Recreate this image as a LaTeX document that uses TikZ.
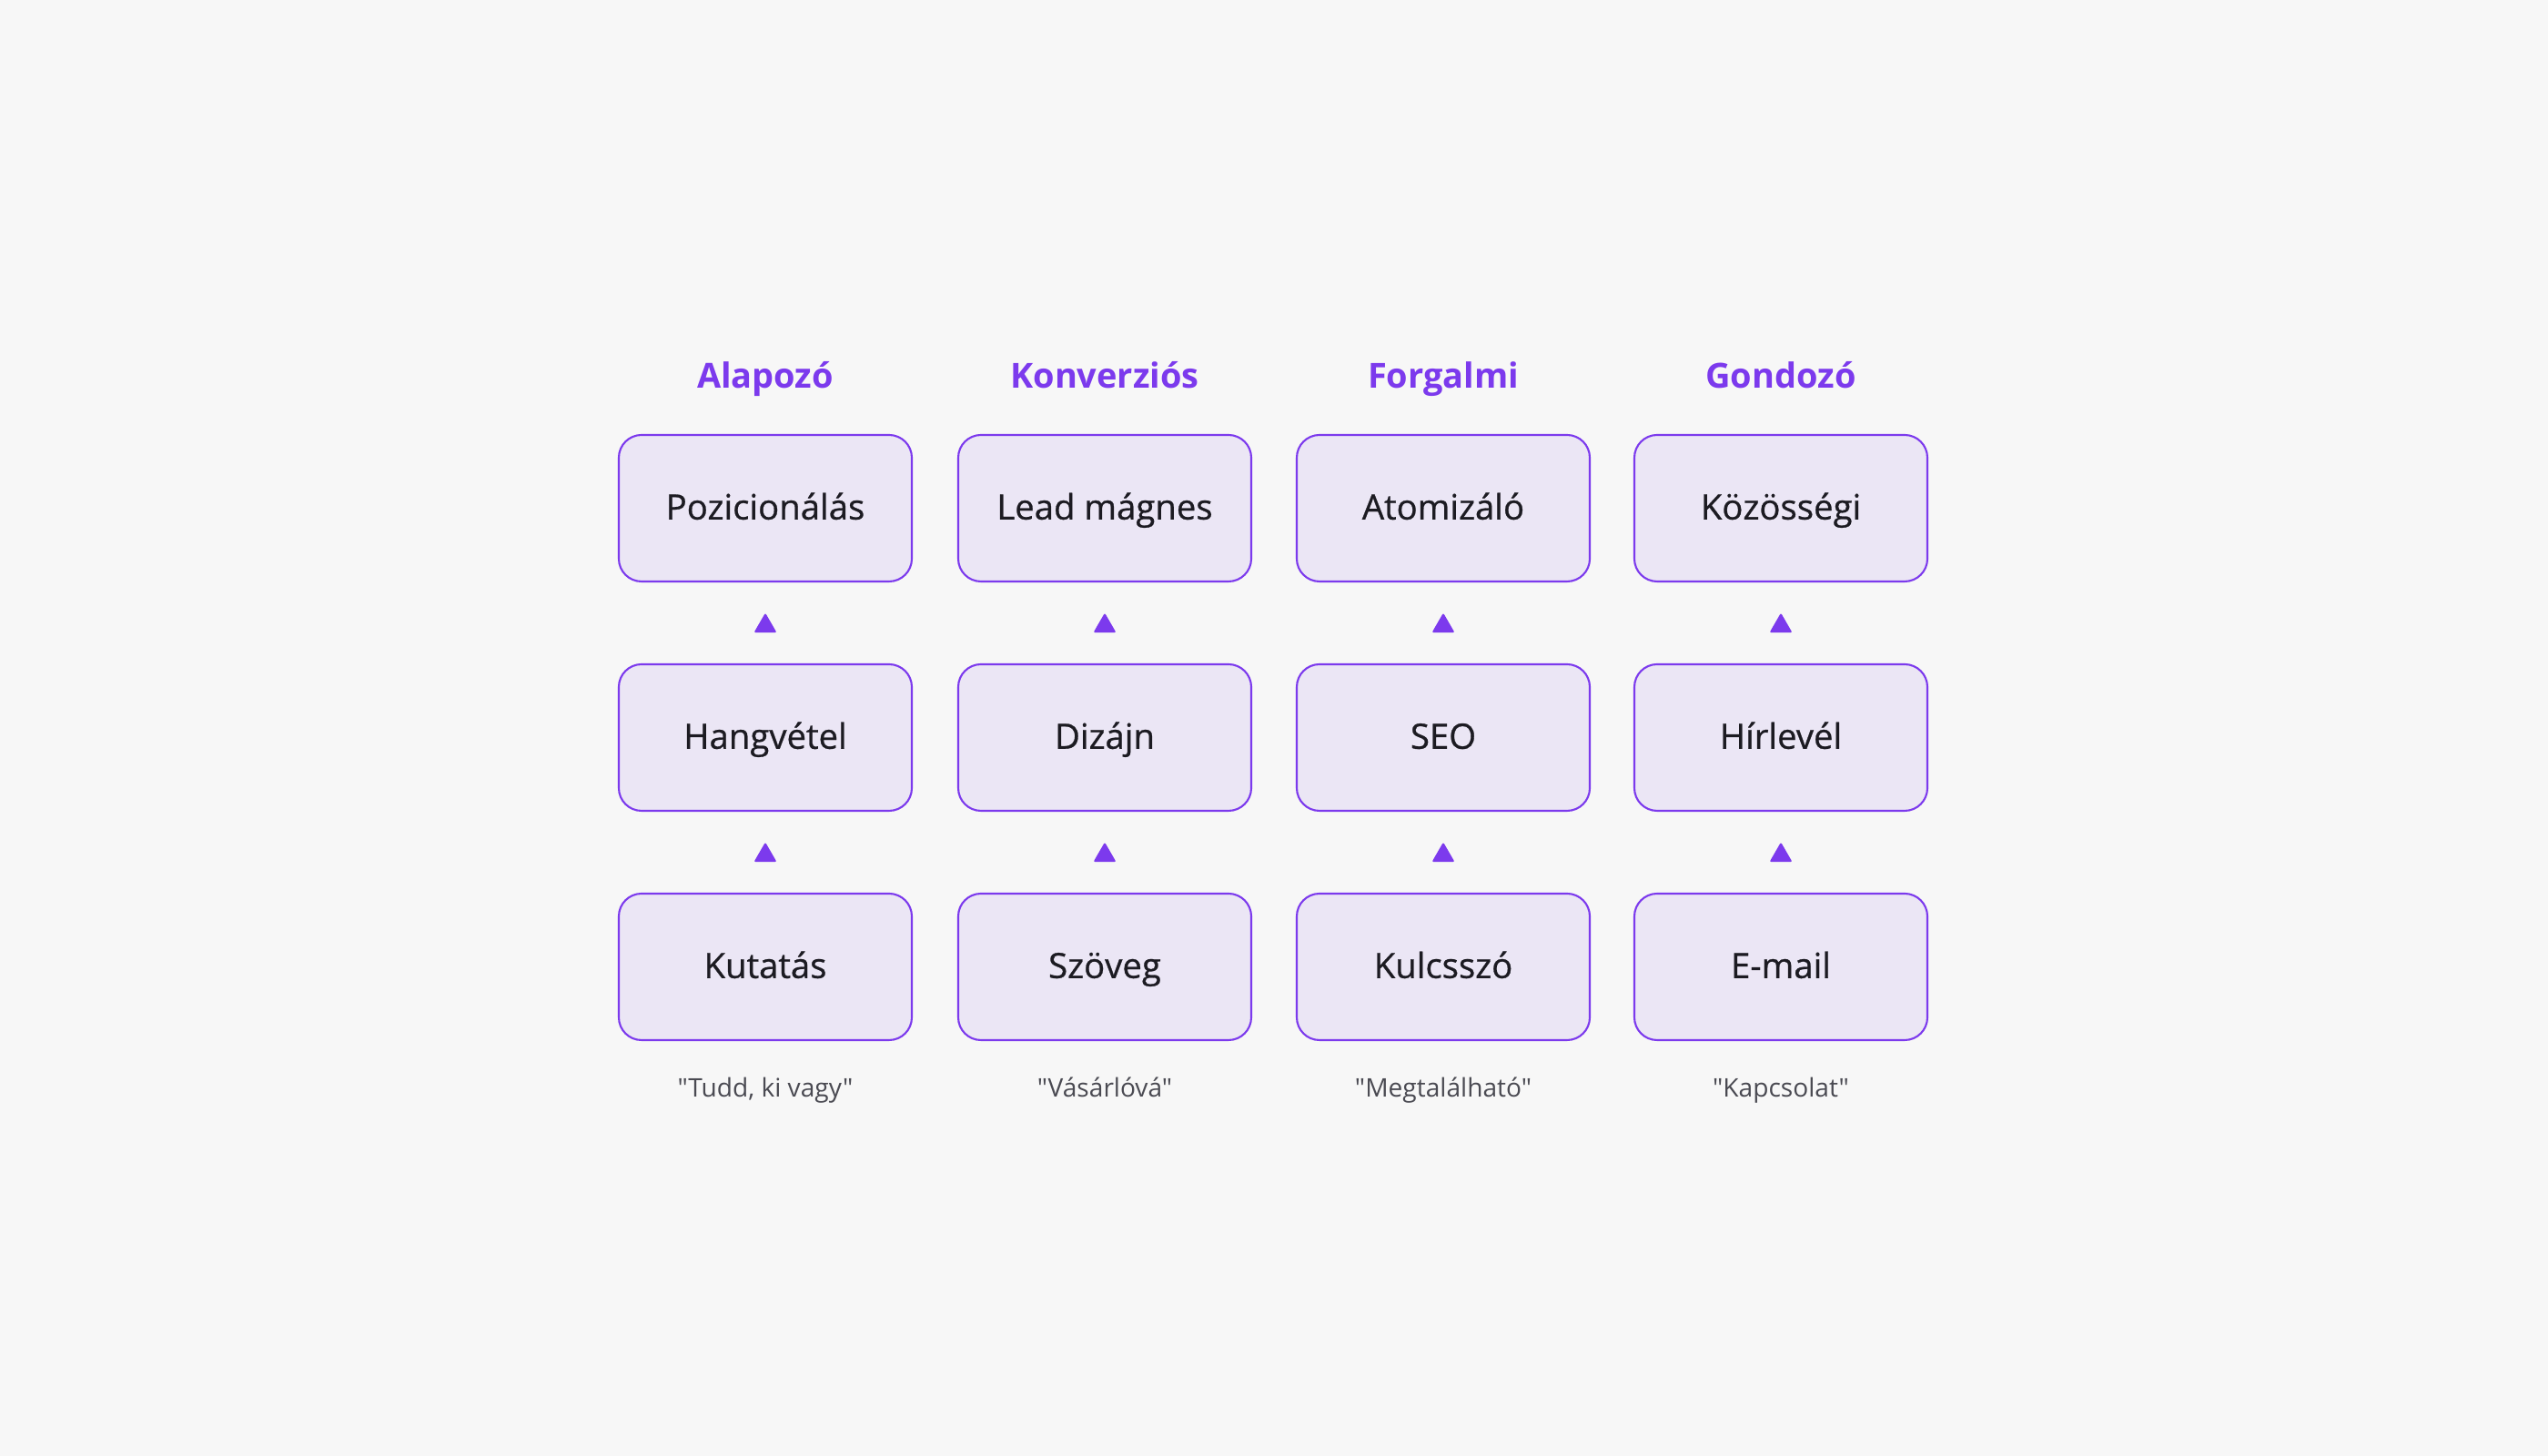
\documentclass[tikz,border=0pt]{standalone}
\usepackage{fontspec}
\setmainfont{Open Sans}[Ligatures=TeXOff]
\newfontfamily\kozepes{Open Sans}[Ligatures=TeXOff,FakeBold=0.7]
\usetikzlibrary{shapes.geometric,calc}
\definecolor{lila}{HTML}{7C3AED}
\definecolor{lilafill}{HTML}{EBE6F5}
\definecolor{hatter}{HTML}{F7F7F7}
\definecolor{szoveg}{HTML}{1C1B22}
\definecolor{szurke}{HTML}{4A4A52}
\tikzset{
  doboz/.style={draw=lila, fill=lilafill, line width=0.6pt, rounded corners=0.25cm,
    minimum width=3.22cm, minimum height=1.61cm, text=szoveg, text height=0.7em, text depth=0pt,
    font=\kozepes\fontsize{10.9}{13}\selectfont},
  cim/.style={text=lila, text height=0.72em, text depth=0pt, font=\bfseries\fontsize{10.8}{13}\selectfont},
  alcim/.style={text=szurke, text height=0.72em, text depth=0pt, font=\fontsize{8}{10}\selectfont},
  nyil/.style={regular polygon, regular polygon sides=3, fill=lila, minimum size=0.29cm,
    inner sep=0pt, rounded corners=0.6pt, yshift=-0.035cm},
}
\begin{document}
\begin{tikzpicture}
  \fill[hatter] (0,0) rectangle (28,16);
  \foreach \x/\cimszo/\also/\kozep/\felso/\mondas [count=\i] in {
    8.41/Alapozó/Kutatás/Hangvétel/Pozicionálás/{"Tudd, ki vagy"},
    12.14/Konverziós/Szöveg/Dizájn/Lead mágnes/"Vásárlóvá",
    15.86/Forgalmi/Kulcsszó/SEO/Atomizáló/"Megtalálható",
    19.57/Gondozó/E-mail/Hírlevél/Közösségi/"Kapcsolat"}{
    \node[cim] (cim\i) at (\x,11.86) {\cimszo};
    \node[doboz] (felso\i) at (\x,10.415) {\felso};
    \node[doboz] (kozep\i) at (\x,7.895) {\kozep};
    \node[doboz] (also\i) at (\x,5.375) {\also};
    \node[alcim] (mondas\i) at (\x,4.07) {\mondas};
    % a lepcsok kozti jelek
    \node[nyil] (nya\i) at ($(also\i.north)!0.5!(kozep\i.south)$) {};
    \node[nyil] (nyb\i) at ($(kozep\i.north)!0.5!(felso\i.south)$) {};
  }
\end{tikzpicture}
\end{document}
